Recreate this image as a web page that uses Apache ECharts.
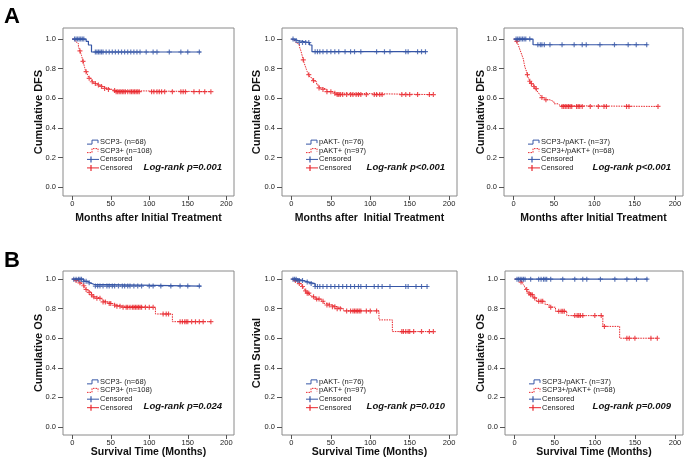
<!DOCTYPE html>
<html><head><meta charset="utf-8">
<script src="https://cdn.jsdelivr.net/npm/echarts@6/dist/echarts.min.js"></script>
<style>html,body{margin:0;padding:0;background:#fff}#c{width:687px;height:467px}</style>
</head><body><div id="c"></div>
<script>
// ---------- data ----------
const xTicks = [0, 50, 100, 150, 200];
const yTicks = [0, 0.2, 0.4, 0.6, 0.8, 1.0];

// Panel A1: SCP3 DFS
const a1BlueSteps = [[0,1],[18,0.985],[21,0.96],[25,0.913],[167,0.913]];
const a1BlueCensor = [3,5,7,9,11,13,15,30,32,34,36,38,40,44,48,52,56,60,64,68,72,76,80,84,88,96,105,110,126,141,150,165];
const a1RedSteps = [[0,1],[3,0.99],[5,0.98],[6,0.97],[8,0.95],[9,0.94],[10,0.92],[11,0.91],[12,0.89],[13,0.87],[14,0.85],[15,0.83],[16,0.81],[17,0.79],[18,0.78],[19,0.77],[20,0.76],[21,0.745],[22,0.735],[24,0.725],[26,0.712],[28,0.70],[31,0.69],[35,0.68],[40,0.667],[46,0.66],[52,0.652],[56,0.645],[180,0.645]];
const a1RedCensor = [10,14,18,22,26,30,34,38,42,47,55,57,59,61,63,65,67,69,72,75,77,79,81,83,85,87,103,106,110,113,116,120,130,141,144,147,158,165,172,180];

// Panel A2: pAKT DFS
const a2BlueSteps = [[0,1],[4,0.99],[8,0.977],[23,0.96],[26,0.915],[171,0.915]];
const a2BlueCensor = [2,6,10,14,18,22,30,33,36,40,45,50,55,60,68,75,80,88,108,118,125,145,148,160,165,170];
const a2RedSteps = [[0,1],[2,0.99],[4,0.98],[6,0.975],[8,0.965],[10,0.95],[11,0.935],[12,0.92],[13,0.90],[14,0.88],[15,0.86],[16,0.84],[17,0.825],[18,0.81],[19,0.795],[20,0.78],[22,0.76],[23,0.745],[25,0.735],[27,0.72],[29,0.712],[32,0.69],[35,0.67],[40,0.66],[45,0.645],[52,0.635],[56,0.625],[180,0.625]];
const a2RedCensor = [15,22,28,35,40,45,50,55,58,60,62,65,70,75,78,82,85,88,95,105,108,112,115,140,145,150,160,175,180];

// Panel A3: SCP3/pAKT DFS
const a3BlueSteps = [[0,1],[24,0.962],[166,0.962]];
const a3BlueCensor = [3,5,7,9,11,13,15,20,30,33,35,38,45,60,75,85,90,107,125,142,152,165];
const a3RedSteps = [[0,1],[3,0.985],[5,0.97],[6,0.955],[7,0.94],[8,0.925],[9,0.91],[10,0.895],[11,0.88],[12,0.865],[13,0.835],[14,0.81],[15,0.795],[16,0.78],[17,0.76],[18,0.74],[19,0.73],[20,0.715],[21,0.70],[23,0.69],[25,0.68],[27,0.665],[29,0.65],[31,0.635],[33,0.62],[35,0.605],[38,0.59],[45,0.577],[50,0.563],[55,0.55],[58,0.545],[179,0.545]];
const a3RedCensor = [4,17,20,22,25,28,35,40,60,62,64,66,68,70,72,78,80,82,85,95,105,112,115,140,143,179];

// Panel B1: SCP3 OS
const b1BlueSteps = [[0,1],[15,0.985],[20,0.975],[23,0.965],[28,0.953],[167,0.953]];
const b1BlueCensor = [2,5,8,10,12,15,18,22,30,33,36,40,45,48,52,55,60,65,68,72,75,80,85,90,100,105,115,128,140,150,165];
const b1RedSteps = [[0,1],[5,0.99],[8,0.98],[10,0.975],[12,0.965],[14,0.955],[16,0.945],[18,0.93],[20,0.92],[22,0.91],[25,0.895],[27,0.88],[32,0.87],[37,0.858],[40,0.846],[45,0.835],[52,0.823],[58,0.817],[66,0.809],[108,0.764],[130,0.712],[180,0.712]];
const b1RedCensor = [5,10,15,18,22,25,28,32,36,40,43,48,50,55,58,62,66,70,72,75,78,80,82,84,86,88,90,95,100,105,118,122,125,140,143,146,148,150,155,160,165,170,180];

// Panel B2: pAKT OS
const b2BlueSteps = [[0,1],[8,0.99],[15,0.98],[22,0.97],[30,0.95],[173,0.95]];
const b2BlueCensor = [2,4,6,8,10,14,20,25,30,33,36,40,45,50,55,60,65,70,75,80,85,88,95,105,110,115,125,145,148,158,165,172];
const b2RedSteps = [[0,1],[3,0.99],[6,0.98],[9,0.97],[12,0.96],[14,0.95],[16,0.935],[18,0.92],[20,0.905],[23,0.89],[25,0.88],[30,0.865],[38,0.85],[41,0.836],[45,0.825],[51,0.813],[58,0.80],[66,0.785],[111,0.724],[128,0.645],[180,0.645]];
const b2RedCensor = [5,10,14,18,20,22,28,32,35,40,45,48,52,55,58,62,70,75,78,80,82,84,86,88,95,100,108,140,142,145,148,150,155,165,175,180];

// Panel B3: SCP3/pAKT OS
const b3BlueSteps = [[0,1],[166,1]];
const b3BlueCensor = [3,5,7,9,11,13,20,30,33,36,38,40,45,60,75,85,90,107,125,140,152,165];
const b3RedSteps = [[0,1],[5,0.99],[8,0.98],[10,0.97],[12,0.955],[13,0.94],[14,0.93],[16,0.915],[18,0.905],[20,0.895],[23,0.873],[27,0.85],[38,0.828],[43,0.81],[51,0.782],[65,0.753],[110,0.68],[131,0.60],[179,0.60]];
const b3RedCensor = [8,15,18,20,22,25,30,33,35,45,55,58,60,62,75,78,80,82,85,100,108,112,140,143,150,170,178];

const yNames = ['Cumulative DFS','Cumulative DFS','Cumulative DFS','Cumulative OS','Cum Survival','Cumulative OS'];
const xNames = ['Months after Initial Treatment','Months after  Initial Treatment','Months after Initial Treatment','Survival Time (Months)','Survival Time (Months)','Survival Time (Months)'];
const blueLabels = ['SCP3- (n=68)','pAKT- (n=76)','SCP3-/pAKT- (n=37)','SCP3- (n=68)','pAKT- (n=76)','SCP3-/pAKT- (n=37)'];
const redLabels = ['SCP3+ (n=108)','pAKT+ (n=97)','SCP3+/pAKT+ (n=68)','SCP3+ (n=108)','pAKT+ (n=97)','SCP3+/pAKT+ (n=68)'];
const censorLabel = 'Censored';
const pTexts = ['Log-rank p=0.001','Log-rank p<0.001','Log-rank p<0.001','Log-rank p=0.024','Log-rank p=0.010','Log-rank p=0.009'];
const panelLetters = ['A','B'];

const blueSteps = [a1BlueSteps,a2BlueSteps,a3BlueSteps,b1BlueSteps,b2BlueSteps,b3BlueSteps];
const blueCensor = [a1BlueCensor,a2BlueCensor,a3BlueCensor,b1BlueCensor,b2BlueCensor,b3BlueCensor];
const redSteps = [a1RedSteps,a2RedSteps,a3RedSteps,b1RedSteps,b2RedSteps,b3RedSteps];
const redCensor = [a1RedCensor,a2RedCensor,a3RedCensor,b1RedCensor,b2RedCensor,b3RedCensor];

// ---------- layout / style ----------
const frames = [
  {l:63, t:28, r:234, b:196},
  {l:282, t:28, r:457, b:196},
  {l:504, t:28, r:683, b:196},
  {l:63, t:271, r:234, b:435},
  {l:282, t:271, r:457, b:435},
  {l:505, t:271, r:683, b:435}
];
const yRanges = [[-0.06,1.075],[-0.06,1.075],[-0.06,1.075],[-0.055,1.055],[-0.055,1.055],[-0.055,1.055]];
const xNameGaps = [16.5,16.5,16.5,11.5,11.5,11.5];
const yNameGaps = [18.5,20,18,18.5,20,18.5];
const BLUE = '#3656a6', RED = '#e8262c', FONT = 'Liberation Sans, Arial, sans-serif';
const plus = 'path://M-0.7,-3H0.7V-0.7H3V0.7H0.7V3H-0.7V0.7H-3V-0.7H-0.7Z';

function survAt(steps, t){ let v = steps[0][1]; for (const s of steps){ if (s[0] <= t) v = s[1]; } return v; }

const chart = echarts.init(document.getElementById('c'), null, {renderer:'canvas'});
const grid = [], xAxis = [], yAxis = [], series = [];
frames.forEach((f, i) => {
  grid.push({left:f.l, top:f.t, width:f.r-f.l, height:f.b-f.t, show:true, borderColor:'#8a8a8a', borderWidth:1, backgroundColor:'#fff'});
  xAxis.push({type:'value', gridIndex:i, min:-12, max:210,
    axisLine:{show:false, onZero:false}, splitLine:{show:false},
    axisTick:{show:true, customValues:xTicks, length:4, lineStyle:{color:'#555'}},
    axisLabel:{customValues:xTicks, fontSize:7.5, color:'#222', margin:4, fontFamily:FONT},
    name:xNames[i], nameLocation:'middle', nameGap:xNameGaps[i], nameMoveOverlap:false,
    nameTextStyle:{fontSize:10.5, fontWeight:'bold', color:'#111', fontFamily:FONT, verticalAlign:'top'}});
  yAxis.push({type:'value', gridIndex:i, min:yRanges[i][0], max:yRanges[i][1],
    axisLine:{show:false, onZero:false}, splitLine:{show:false},
    axisTick:{show:true, customValues:yTicks, length:5, lineStyle:{color:'#555'}},
    axisLabel:{customValues:yTicks, fontSize:7.5, color:'#222', margin:7, fontFamily:FONT, formatter:v=>v.toFixed(1)},
    name:yNames[i], nameLocation:'middle', nameGap:yNameGaps[i], nameMoveOverlap:false,
    nameTextStyle:{fontSize:11, fontWeight:'bold', color:'#111', fontFamily:FONT}});
  series.push({type:'line', xAxisIndex:i, yAxisIndex:i, data:redSteps[i], step:'end', symbol:'none',
    lineStyle:{color:RED, width:1, type:[1.5,1]}, silent:true, z:2});
  series.push({type:'scatter', xAxisIndex:i, yAxisIndex:i, symbol:plus, symbolSize:5,
    data:redCensor[i].map(t=>[t, survAt(redSteps[i], t)]), itemStyle:{color:RED}, silent:true, z:3});
  series.push({type:'line', xAxisIndex:i, yAxisIndex:i, data:blueSteps[i], step:'end', symbol:'none',
    lineStyle:{color:BLUE, width:1.2}, silent:true, z:4});
  series.push({type:'scatter', xAxisIndex:i, yAxisIndex:i, symbol:plus, symbolSize:5,
    data:blueCensor[i].map(t=>[t, survAt(blueSteps[i], t)]), itemStyle:{color:BLUE}, silent:true, z:5});
});
chart.setOption({animation:false, backgroundColor:'#fff', grid, xAxis, yAxis, series});

// legends and annotations
const graphic = [];
graphic.push({type:'text', left:4, top:6, style:{text:panelLetters[0], font:'bold 22px '+FONT, fill:'#000'}});
graphic.push({type:'text', left:4, top:250, style:{text:panelLetters[1], font:'bold 22px '+FONT, fill:'#000'}});
frames.forEach((f, i) => {
  const y0 = chart.convertToPixel({gridIndex:i}, [0,0])[1];
  const ix = f.l + 24, tx = f.l + 37;
  const rows = [y0-45, y0-36.5, y0-27.7, y0-19.2];
  const txtStyle = (s, y) => ({type:'text', x:tx, y:y, style:{text:s, font:'7.5px '+FONT, fill:'#222', textVerticalAlign:'middle', verticalAlign:'middle'}});
  graphic.push({type:'polyline', shape:{points:[[ix,rows[0]+2],[ix+5,rows[0]+2],[ix+5,rows[0]-2],[ix+11,rows[0]-2],[ix+11,rows[0]+1]]}, style:{stroke:BLUE, lineWidth:1, fill:null}});
  graphic.push(txtStyle(blueLabels[i], rows[0]));
  graphic.push({type:'polyline', shape:{points:[[ix,rows[1]+2],[ix+5,rows[1]+2],[ix+5,rows[1]-2],[ix+11,rows[1]-2],[ix+11,rows[1]+1]]}, style:{stroke:RED, lineWidth:1, fill:null, lineDash:[1.5,1]}});
  graphic.push(txtStyle(redLabels[i], rows[1]));
  graphic.push({type:'line', shape:{x1:ix, y1:rows[2], x2:ix+12, y2:rows[2]}, style:{stroke:BLUE, lineWidth:1}});
  graphic.push({type:'line', shape:{x1:ix+4, y1:rows[2]-3, x2:ix+4, y2:rows[2]+3}, style:{stroke:BLUE, lineWidth:1.2}});
  graphic.push(txtStyle(censorLabel, rows[2]));
  graphic.push({type:'line', shape:{x1:ix, y1:rows[3], x2:ix+12, y2:rows[3]}, style:{stroke:RED, lineWidth:1}});
  graphic.push({type:'line', shape:{x1:ix+4, y1:rows[3]-3, x2:ix+4, y2:rows[3]+3}, style:{stroke:RED, lineWidth:1.2}});
  graphic.push(txtStyle(censorLabel, rows[3]));
  graphic.push({type:'text', x:f.r-12, y:y0-20, style:{text:pTexts[i], font:'italic bold 9.5px '+FONT, fill:'#111', textAlign:'right', align:'right', textVerticalAlign:'middle', verticalAlign:'middle'}});
});
chart.setOption({graphic});
</script>
</body></html>
